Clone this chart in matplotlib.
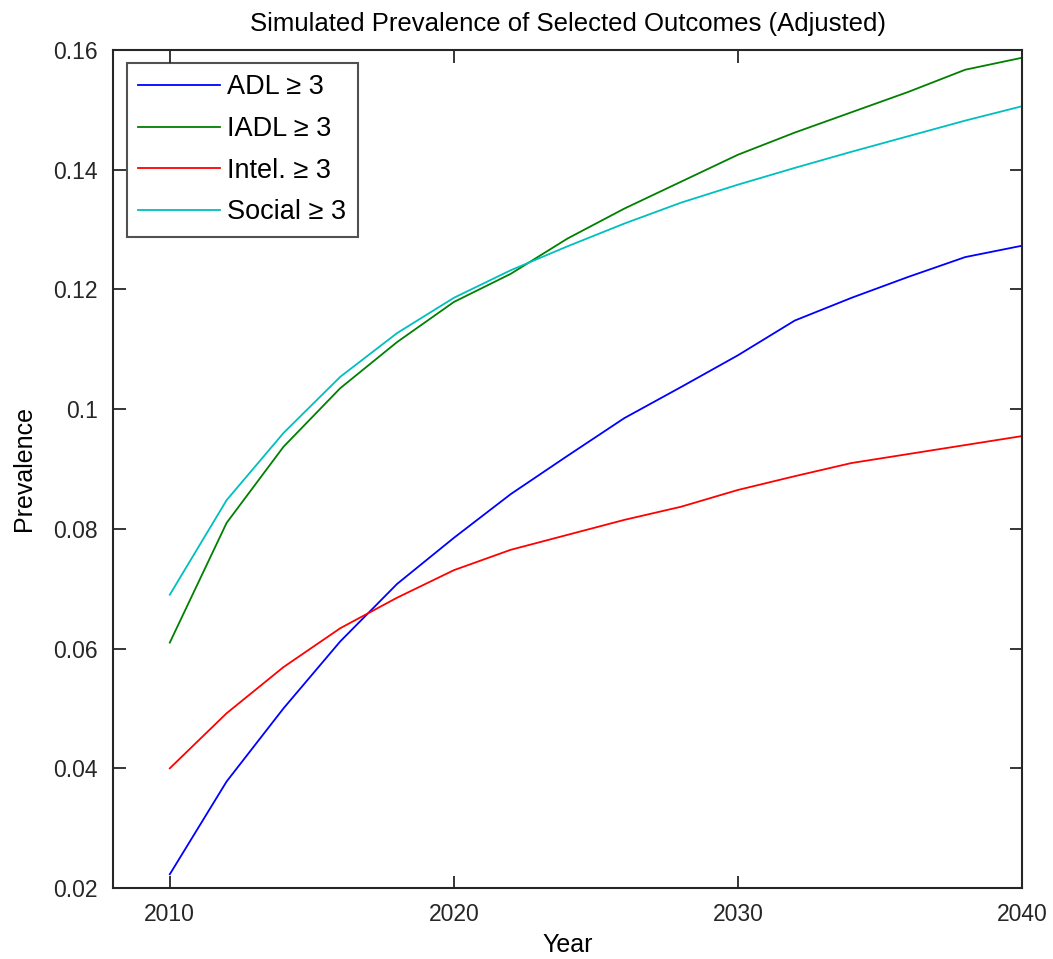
import matplotlib
matplotlib.use("Agg")
import matplotlib.pyplot as plt
import numpy as np

plt.rcParams['font.family'] = ['Liberation Sans', 'DejaVu Sans']

years = [2010, 2012, 2014, 2016, 2018, 2020, 2022, 2024, 2026, 2028,
         2030, 2032, 2034, 2036, 2038, 2040]

adl = [0.0223, 0.0378, 0.0500, 0.0612, 0.0708, 0.0785, 0.0858, 0.0922, 0.0985, 0.1037,
       0.1090, 0.1148, 0.1186, 0.1221, 0.1254, 0.1273]
iadl = [0.0610, 0.0810, 0.0937, 0.1035, 0.1112, 0.1179, 0.1226, 0.1285, 0.1335, 0.1380,
        0.1425, 0.1462, 0.1496, 0.1530, 0.1567, 0.1587]
intel = [0.0400, 0.0492, 0.0569, 0.0634, 0.0685, 0.0731, 0.0765, 0.0790, 0.0815, 0.0837,
         0.0865, 0.0888, 0.0910, 0.0925, 0.0940, 0.0955]
social = [0.0690, 0.0848, 0.0960, 0.1054, 0.1127, 0.1186, 0.1232, 0.1272, 0.1310, 0.1345,
          0.1375, 0.1403, 0.1430, 0.1456, 0.1482, 0.1506]

labels = [u"ADL \u2265 3", u"IADL \u2265 3", u"Intel. \u2265 3", u"Social \u2265 3"]
colors = [(0, 0, 1), (0, 0.5, 0), (1, 0, 0), (0, 0.75, 0.75)]

fig = plt.figure(figsize=(10.53, 9.59), dpi=100)
ax = fig.add_axes([0.1073, 0.074, 0.8633, 0.8739])

for series, lab, c in zip([adl, iadl, intel, social], labels, colors):
    ax.plot(years, series, color=c, linewidth=1.3, label=lab)

ax.set_xlim(2008, 2040)
ax.set_ylim(0.02, 0.16)
ax.set_xticks([2010, 2020, 2030, 2040])
ax.set_yticks([0.02, 0.04, 0.06, 0.08, 0.1, 0.12, 0.14, 0.16])
ax.set_yticklabels(["0.02", "0.04", "0.06", "0.08", "0.1", "0.12", "0.14", "0.16"])

ax.tick_params(direction='in', top=True, right=True, length=9, width=1.3,
               labelsize=16.5, colors='#262626', pad=11)
for sp in ax.spines.values():
    sp.set_linewidth(1.5)
    sp.set_color('#262626')

ax.set_title("Simulated Prevalence of Selected Outcomes (Adjusted)", fontsize=18.5, pad=14)
ax.set_xlabel("Year", fontsize=18, labelpad=5)
ax.set_ylabel("Prevalence", fontsize=18, labelpad=12)

leg = ax.legend(loc='upper left', fontsize=19.5, frameon=True, fancybox=False,
                handlelength=3.0, handletextpad=0.28, borderpad=0.42,
                labelspacing=0.58, borderaxespad=0,
                bbox_to_anchor=(0.0154, 0.9845))
leg.get_frame().set_edgecolor('#262626')
leg.get_frame().set_linewidth(1.5)

plt.savefig("out.png", dpi=100)
